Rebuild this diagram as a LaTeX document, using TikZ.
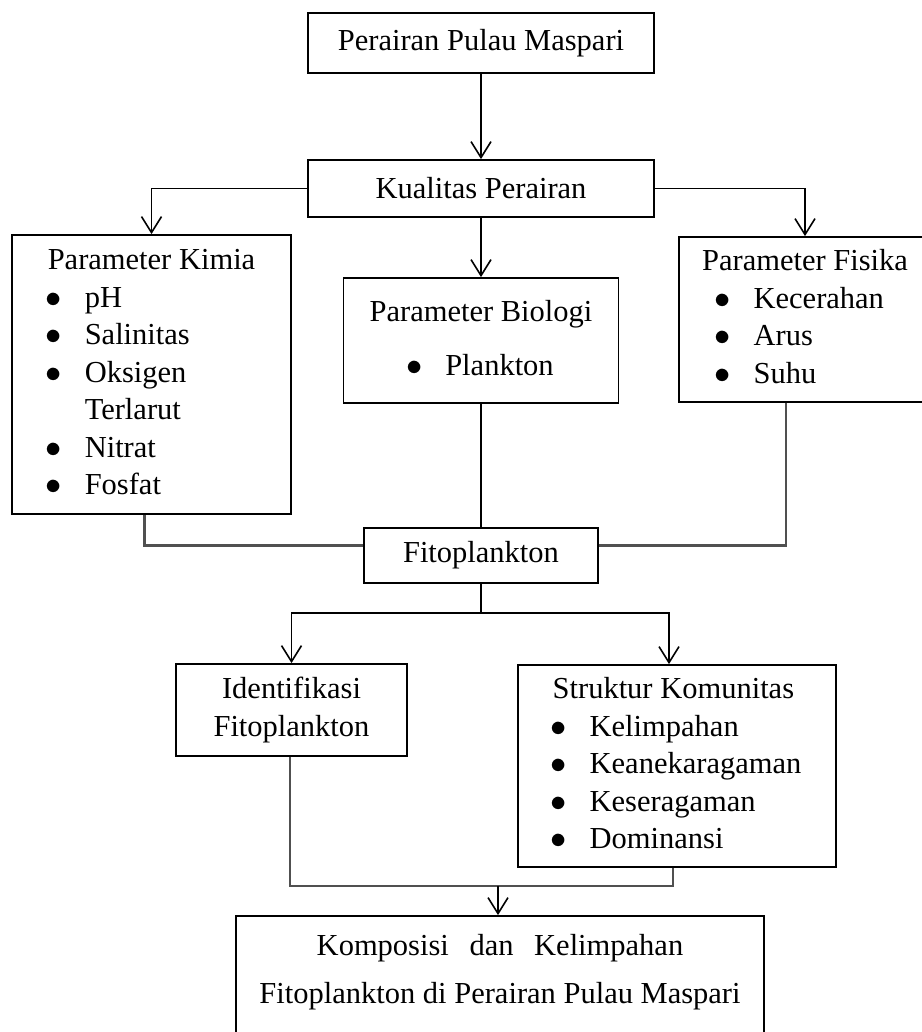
\documentclass[tikz,border=0pt]{standalone}
\usepackage{fontspec}
\setmainfont{Liberation Serif}
\usetikzlibrary{arrows.meta, positioning, calc}
\definecolor{linkgray}{RGB}{80, 80, 80}
\newcommand{\dotmark}{\makebox[37pt][l]{\hspace*{-2pt}\scalebox{1.3}{$\bullet$}}}
\newcommand{\blt}[2][0pt]{\hspace*{#1}\dotmark#2\strut}
\newcommand{\bltcont}[2][0pt]{\hspace*{#1}\makebox[37pt][l]{}#2\strut}

\begin{document}
\begin{tikzpicture}[x=1pt, y=-1pt,
  box/.style={draw, line width=1.8pt, inner sep=0pt, font=\fontsize{30.5}{37.5}\selectfont},
  arr/.style={line width=1.6pt, -{Straight Barb[length=16pt,width=20pt,line width=1.6pt]}},
  link/.style={line width=1.6pt},
  joinline/.style={line width=2.2pt, draw=linkgray}]
  \fill[white] (0,0) rectangle (921,1032);
  \useasboundingbox (0,0) rectangle (921,1032);
  \node[box, minimum width=346pt, minimum height=60pt] (perairan) at (481,43) {Perairan Pulau Maspari};
  \node[box, minimum width=346pt, minimum height=57pt] (kualitas) at (481,188.5) {Kualitas Perairan};
  \node[box, minimum width=279pt, minimum height=279pt, align=left] (kimia) at (151.5,374.5)
    {Parameter Kimia\strut\\ \blt{pH}\\ \blt{Salinitas}\\ \blt{Oksigen}\\ \bltcont{Terlarut}\\ \blt{Nitrat}\\ \blt{Fosfat}};
  \node[box, minimum width=275pt, minimum height=125pt, align=center] (biologi) at (481,340.5)
    {Parameter Biologi\strut\\[16.5pt] \dotmark Plankton\strut};
  \node[box, minimum width=252pt, minimum height=165pt, align=left] (fisika) at (805,319.5)
    {Parameter Fisika\strut\\ \blt[14.5pt]{Kecerahan}\\ \blt[14.5pt]{Arus}\\ \blt[14.5pt]{Suhu}};
  \node[box, minimum width=234pt, minimum height=55pt] (fito) at (481,555.5) {Fitoplankton};
  \node[box, minimum width=231pt, minimum height=92pt, align=center] (identifikasi) at (291.5,710)
    {Identifikasi\strut\\ Fitoplankton\strut};
  \node[box, minimum width=318pt, minimum height=202pt, align=left] (struktur) at (677,766)
    {Struktur Komunitas\strut\\ \blt{Kelimpahan}\\ \blt{Keanekaragaman}\\ \blt{Keseragaman}\\ \blt{Dominansi}};
  \node[box, minimum width=528pt, minimum height=128pt, align=center] (komposisi) at (500,980)
    {Komposisi\hspace{13pt} dan\hspace{13pt} Kelimpahan\strut\\[10.5pt] Fitoplankton di Perairan Pulau Maspari\rule[-28pt]{0pt}{28pt}};
  \coordinate (split) at (481,613);
  \coordinate (merge) at (498,886);
  \draw[arr] (perairan.south) -- (kualitas.north);
  \draw[arr] (kualitas.west) -| (kimia.north);
  \draw[arr] (kualitas.east) -| (fisika.north);
  \draw[arr] (kualitas.south) -- (biologi.north);
  \draw[joinline] ([xshift=-7pt]kimia.south) |- ([yshift=10pt]fito.west);
  \draw[joinline] ([xshift=-19pt]fisika.south) |- ([yshift=10pt]fito.east);
  \draw[link] (biologi.south) -- (fito.north);
  \draw[link] (fito.south) -- (split);
  \draw[arr] (split) -| (identifikasi.north);
  \draw[arr] (split) -| ([xshift=-8pt]struktur.north);
  \draw[joinline] ([xshift=-1.5pt]identifikasi.south) |- (merge) -| ([xshift=-4pt]struktur.south);
  \draw[arr] (merge) -- (merge |- komposisi.north);
\end{tikzpicture}
\end{document}
